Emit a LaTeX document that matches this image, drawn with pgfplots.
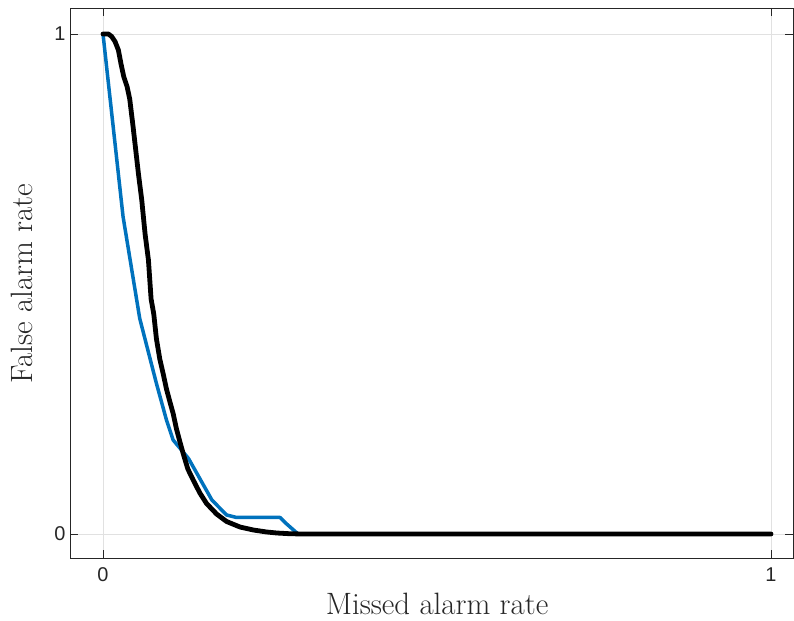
\documentclass[border=0pt]{standalone}
\usepackage{pgfplots}
\pgfplotsset{compat=1.18}
\usepackage{fontspec}
\newfontfamily\tickfont{Liberation Sans}
\definecolor{mblue}{RGB}{0,114,189}
\definecolor{framec}{RGB}{38,38,38}
\definecolor{gridc}{RGB}{225,225,225}
\begin{document}
\begin{tikzpicture}
\begin{axis}[
  scale only axis,
  width=723bp, height=550bp,
  xmin=-0.0494, xmax=1.0329,
  ymin=-0.048, ymax=1.052,
  xtick={0,1}, ytick={0,1},
  xmajorgrids, ymajorgrids,
  major grid style={gridc, line width=0.8bp},
  axis line style={framec, line width=0.8bp},
  tick style={framec, line width=0.8bp},
  tick align=inside,
  major tick length=8bp,
  xtick pos=both, ytick pos=both,
  xticklabel pos=lower, yticklabel pos=left,
  /pgf/number format/assume math mode=true,
  tick label style={font=\tickfont\fontsize{20}{24}\selectfont, text=framec},
  xticklabel style={yshift=-6bp},
  yticklabel style={xshift=-1bp},
  xlabel={Missed alarm rate},
  ylabel={False alarm rate},
  label style={font=\fontsize{31}{36}\selectfont, text=framec},
  xlabel style={at={(axis description cs:0.5077,-0.083)}, anchor=center},
  ylabel style={at={(axis description cs:-0.066,0.4985)}, anchor=center, rotate=0},
  clip=false,
]
\addplot[mblue, line width=3.5bp, line join=round] coordinates {
(0,1) (0.030,0.635) (0.055,0.431) (0.080,0.301) (0.095,0.228) (0.105,0.188)
(0.128,0.151) (0.163,0.068) (0.185,0.038) (0.200,0.033) (0.265,0.033)
(0.275,0.02) (0.292,0) (1,0)
};
\addplot[black, line width=4.8bp, line join=round, line cap=round] coordinates {
(0,1) (0.008,1) (0.013,0.995) (0.018,0.985) (0.023,0.968) (0.027,0.94)
(0.031,0.915) (0.036,0.895) (0.040,0.87) (0.045,0.815) (0.053,0.721) (0.058,0.668)
(0.063,0.6) (0.068,0.548) (0.072,0.47) (0.076,0.44) (0.080,0.39)
(0.085,0.35) (0.090,0.321) (0.095,0.29) (0.100,0.265) (0.105,0.241)
(0.110,0.21) (0.115,0.185) (0.120,0.161) (0.127,0.13) (0.135,0.108)
(0.145,0.082) (0.155,0.061) (0.170,0.04) (0.185,0.025) (0.205,0.014)
(0.225,0.008) (0.245,0.004) (0.26,0.002) (0.28,0.0005) (0.30,0) (1,0)
};
\end{axis}
\useasboundingbox (-70bp,-63bp) rectangle (724bp,558bp);
\end{tikzpicture}
\end{document}
